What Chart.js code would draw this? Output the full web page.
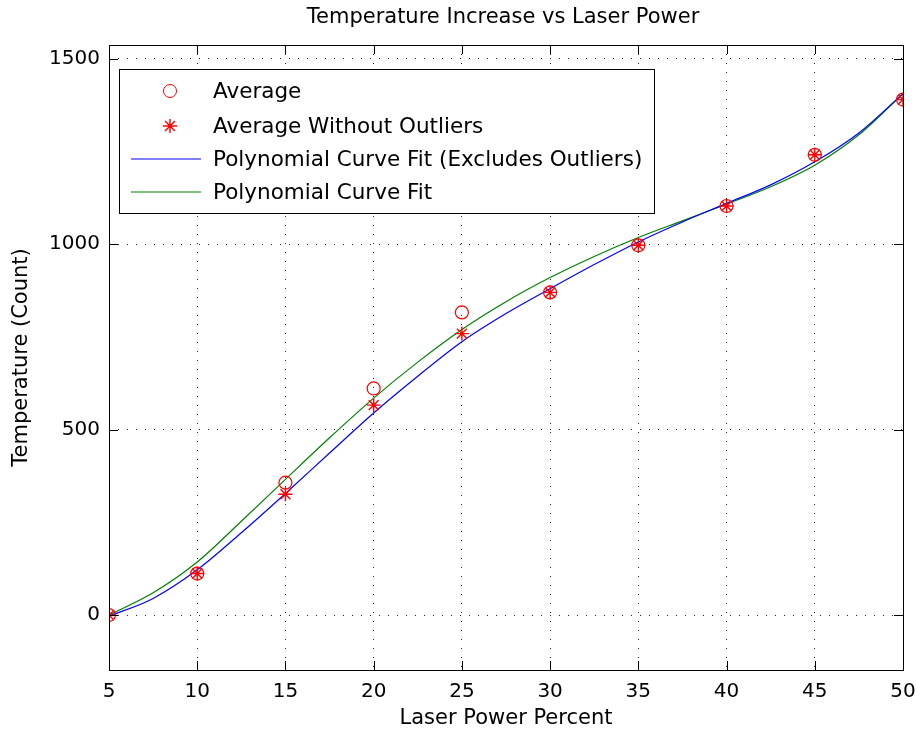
<!DOCTYPE html>
<html>
<head>
<meta charset="utf-8">
<script src="https://cdn.jsdelivr.net/npm/chart.js@4.4.1/dist/chart.umd.min.js"></script>
<style>
  html, body { margin: 0; padding: 0; background: #fff; }
  #wrap { width: 917px; height: 736px; }
</style>
</head>
<body>
<div id="wrap"><canvas id="tempChart" width="917" height="736"></canvas></div>
<script>
// Laser power settings (percent)
const powerLevels = [5, 10, 15, 20, 25, 30, 35, 40, 45, 50];
// Mean temperature at each power setting
const averageTemp = [0, 112, 357, 611, 816, 870, 997, 1103, 1241, 1390];
// Mean temperature after dropping outliers
const averageNoOutliers = [0, 112, 326, 566, 759, 870, 997, 1103, 1241, 1390];

// Sampled points along the two fitted curves
const fitX = [5, 7.5, 10, 12.5, 15, 17.5, 20, 22.5, 25, 27.5, 30, 32.5, 35, 37.5, 40, 42.5, 45, 47.5, 50];
const fitNoOutliers = [-3, 45, 122, 222, 328, 437, 545, 644, 737, 813, 880, 945, 1006, 1060, 1110, 1160, 1222, 1300, 1406];
const fitAll = [0, 60, 143, 253, 366, 478, 585, 682, 770, 845, 910, 967, 1018, 1063, 1108, 1155, 1213, 1295, 1406];

const xTicks = [5, 10, 15, 20, 25, 30, 35, 40, 45, 50];
const yTicks = [0, 500, 1000, 1500];

const FONT = '"DejaVu Sans", Verdana, sans-serif';

function pairs(xs, ys) {
    return xs.map((x, i) => ({ x: x, y: ys[i] }));
}

// Draw a red asterisk marker
function drawStar(ctx, x, y, r) {
    ctx.beginPath();
    ctx.moveTo(x - r, y); ctx.lineTo(x + r, y);
    ctx.moveTo(x, y - r); ctx.lineTo(x, y + r);
    const d = r * 0.707;
    ctx.moveTo(x - d, y - d); ctx.lineTo(x + d, y + d);
    ctx.moveTo(x - d, y + d); ctx.lineTo(x + d, y - d);
    ctx.stroke();
}

// Box, inward tick marks, title and boxed legend
const matlabFrame = {
    id: 'matlabFrame',
    afterDraw(chart) {
        const ctx = chart.ctx;
        const a = chart.chartArea;
        const xs = chart.scales.x, ys = chart.scales.y;
        ctx.save();
        ctx.strokeStyle = '#000';
        ctx.lineWidth = 1;
        ctx.strokeRect(Math.round(a.left) + 0.5, Math.round(a.top) + 0.5,
            Math.round(a.right - a.left), Math.round(a.bottom - a.top));

        const tl = 9;
        ctx.beginPath();
        xTicks.forEach(v => {
            const px = Math.round(xs.getPixelForValue(v)) + 0.5;
            ctx.moveTo(px, a.bottom); ctx.lineTo(px, a.bottom - tl);
            ctx.moveTo(px, a.top); ctx.lineTo(px, a.top + tl);
        });
        yTicks.forEach(v => {
            const py = Math.round(ys.getPixelForValue(v)) + 0.5;
            ctx.moveTo(a.left, py); ctx.lineTo(a.left + tl, py);
            ctx.moveTo(a.right, py); ctx.lineTo(a.right - tl, py);
        });
        ctx.stroke();

        // title
        ctx.fillStyle = '#000';
        ctx.font = '21px ' + FONT;
        ctx.textAlign = 'center';
        ctx.textBaseline = 'middle';
        ctx.fillText('Temperature Increase vs Laser Power', 503, 18);

        // legend
        const lx = 119, ly = 69, lw = 535, lh = 144;
        ctx.fillStyle = '#fff';
        ctx.fillRect(lx, ly, lw, lh);
        ctx.strokeStyle = '#000';
        ctx.strokeRect(lx + 0.5, ly + 0.5, lw, lh);

        const rows = [91, 126, 159, 192];
        ctx.strokeStyle = '#ff0000';
        ctx.beginPath();
        ctx.arc(170, rows[0], 6.5, 0, Math.PI * 2);
        ctx.stroke();
        ctx.lineWidth = 1.4;
        drawStar(ctx, 170, rows[1], 7);

        ctx.lineWidth = 1.2;
        ctx.strokeStyle = '#0000ff';
        ctx.beginPath(); ctx.moveTo(131, rows[2]); ctx.lineTo(201, rows[2]); ctx.stroke();
        ctx.strokeStyle = '#008000';
        ctx.beginPath(); ctx.moveTo(131, rows[3]); ctx.lineTo(201, rows[3]); ctx.stroke();

        ctx.fillStyle = '#000';
        ctx.font = '21.5px ' + FONT;
        ctx.textAlign = 'left';
        const labels = chart.data.datasets.map(d => d.label);
        labels.forEach((t, i) => ctx.fillText(t, 213, rows[i] + 1));
        ctx.restore();
    }
};

new Chart(document.getElementById('tempChart'), {
    type: 'scatter',
    data: {
        datasets: [
            {
                label: 'Average',
                data: pairs(powerLevels, averageTemp),
                showLine: false,
                pointStyle: 'circle',
                pointRadius: 6.5,
                borderColor: '#ff0000',
                backgroundColor: 'rgba(0,0,0,0)',
                borderWidth: 1.2,
                order: 1
            },
            {
                label: 'Average Without Outliers',
                data: pairs(powerLevels, averageNoOutliers),
                showLine: false,
                pointStyle: 'star',
                pointRadius: 7,
                borderColor: '#ff0000',
                backgroundColor: '#ff0000',
                borderWidth: 1.4,
                order: 1
            },
            {
                label: 'Polynomial Curve Fit (Excludes Outliers)',
                data: pairs(fitX, fitNoOutliers),
                showLine: true,
                pointRadius: 0,
                borderColor: '#0000ff',
                borderWidth: 1.2,
                cubicInterpolationMode: 'monotone',
                order: 2
            },
            {
                label: 'Polynomial Curve Fit',
                data: pairs(fitX, fitAll),
                showLine: true,
                pointRadius: 0,
                borderColor: '#008000',
                borderWidth: 1.2,
                cubicInterpolationMode: 'monotone',
                order: 2
            }
        ]
    },
    options: {
        responsive: false,
        animation: false,
        layout: { padding: { top: 45, right: 14, left: 0, bottom: 0 } },
        plugins: {
            legend: { display: false },
            title: { display: false },
            tooltip: { enabled: false }
        },
        scales: {
            x: {
                type: 'linear',
                min: 5,
                max: 50,
                afterFit: s => { s.height = 66; s.paddingLeft = 0; s.paddingRight = 0; },
                afterBuildTicks: s => { s.ticks = xTicks.map(v => ({ value: v })); },
                grid: { color: '#222', lineWidth: 1, drawTicks: false },
                border: { display: false, dash: [1, 8] },
                ticks: { color: '#000', font: { family: FONT, size: 20 }, padding: 10, maxRotation: 0 },
                title: {
                    display: true,
                    text: 'Laser Power Percent',
                    color: '#000',
                    font: { family: FONT, size: 21 },
                    padding: { top: 0, bottom: 5 }
                }
            },
            y: {
                type: 'linear',
                min: -148,
                max: 1537,
                afterFit: s => { s.width = 109; },
                afterBuildTicks: s => { s.ticks = yTicks.map(v => ({ value: v })); },
                grid: { color: '#222', lineWidth: 1, drawTicks: false },
                border: { display: false, dash: [1, 8] },
                ticks: {
                    color: '#000',
                    font: { family: FONT, size: 20 },
                    padding: 9,
                    callback: v => String(v)
                },
                title: {
                    display: true,
                    text: 'Temperature (Count)',
                    color: '#000',
                    font: { family: FONT, size: 21 },
                    padding: { top: 9, bottom: 0 }
                }
            }
        }
    },
    plugins: [matlabFrame]
});
</script>
</body>
</html>
